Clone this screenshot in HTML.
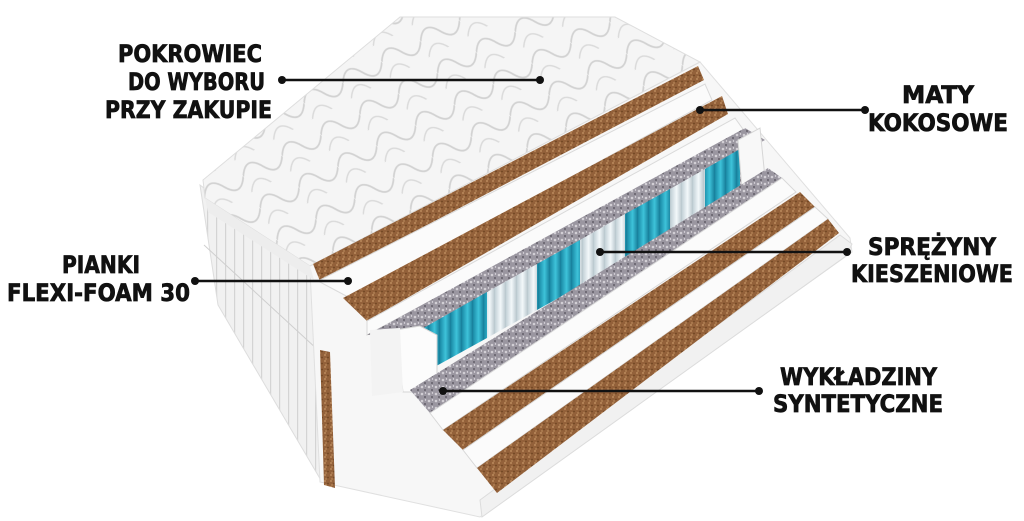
<!DOCTYPE html>
<html><head><meta charset="utf-8"><style>
html,body{margin:0;padding:0;background:#fff;width:1024px;height:521px;overflow:hidden}
text{font-family:"DejaVu Sans Condensed","DejaVu Sans","Liberation Sans",sans-serif;font-weight:bold;font-size:24px;fill:#111;stroke:#111;stroke-width:0.7}
</style></head><body>
<svg width="1024" height="521" viewBox="0 0 1024 521" xmlns="http://www.w3.org/2000/svg">
<defs>
<pattern id="coco" width="6" height="6" patternUnits="userSpaceOnUse">
<rect width="6" height="6" fill="#93613a"/><circle cx="1" cy="1" r="1" fill="#bb8a5c"/><circle cx="4" cy="3.5" r="0.9" fill="#6e4422"/><circle cx="2" cy="5" r="0.7" fill="#c79867"/>
</pattern>
<pattern id="felt" width="7" height="7" patternUnits="userSpaceOnUse">
<rect width="7" height="7" fill="#9a96a0"/><circle cx="2" cy="2" r="1.3" fill="#d2cfd5"/><circle cx="5" cy="5" r="1" fill="#625e68"/><circle cx="5.5" cy="1" r="0.7" fill="#e6e3e8"/>
</pattern>
<linearGradient id="tg" x1="0" x2="1"><stop offset="0" stop-color="#1a8aa6"/><stop offset="0.5" stop-color="#3ec3da"/><stop offset="1" stop-color="#157c98"/></linearGradient>
<linearGradient id="wg" x1="0" x2="1"><stop offset="0" stop-color="#c4d2d8"/><stop offset="0.5" stop-color="#f3f8fa"/><stop offset="1" stop-color="#b7c5cc"/></linearGradient>
<pattern id="teal" width="11" height="10" patternUnits="userSpaceOnUse"><rect width="11" height="10" fill="url(#tg)"/></pattern>
<pattern id="whit" width="11" height="10" patternUnits="userSpaceOnUse"><rect width="11" height="10" fill="url(#wg)"/></pattern>
<pattern id="stripe" width="9" height="9" patternUnits="userSpaceOnUse"><rect width="9" height="9" fill="#f1f1f1"/><rect width="1.2" height="9" fill="#d4d4d4"/></pattern>
<pattern id="quilt" width="44" height="36" patternUnits="userSpaceOnUse" patternTransform="rotate(-28)">
<rect width="44" height="36" fill="#f5f5f5"/><path d="M0 18 Q11 0 22 18 T44 18" fill="none" stroke="#d2d2d2" stroke-width="1.8"/><path d="M0 36 Q11 18 22 36 T44 36" fill="none" stroke="#dadada" stroke-width="1.4"/>
</pattern>
</defs>

<polygon points="200,185 310,268 322,482 218,305" fill="url(#stripe)" stroke="#ddd"/>
<line x1="204" y1="245" x2="318" y2="350" stroke="#cfcfcf"/>
<polygon points="305,268 700,62 850,238 852,252 480,517 320,482 310,270" fill="#f7f7f7" stroke="#e0e0e0"/>
<polygon points="320,350 330,352 335,488 324,485" fill="url(#coco)"/>
<polygon points="480,500 840,235 852,244 846,256 482,517" fill="#f1f1f1" stroke="#dcdcdc"/>
<polygon points="203,180 400,17 615,17 700,62 310,266 205,198" fill="url(#quilt)" stroke="#dedede"/>
<polygon points="205,198 310,266 314,280 208,212" fill="#ededed"/>

<polygon points="313,264 698,66 704,80 320,281" fill="url(#coco)"/>
<polygon points="318,281 705,84 712,100 350,298" fill="#fbfbfb" stroke="#dadada"/>
<polygon points="343,298 722,96 728,114 367,321" fill="url(#coco)"/>
<polygon points="367,321 735,118 745,132 367,335" fill="#fbfbfb" stroke="#dadada"/>
<polygon points="367,335 745,128 765,140 420,328" fill="url(#felt)"/>
<polygon points="417,327 740,145 745,190 420,375" fill="url(#felt)"/>
<polygon points="420,330 487,292 487,338 420,375" fill="url(#teal)"/>
<polygon points="487,292 537,264 537,310 487,338" fill="url(#whit)"/>
<polygon points="537,264 580,240 580,286 537,310" fill="url(#teal)"/>
<polygon points="580,240 625,214 625,260 580,286" fill="url(#whit)"/>
<polygon points="625,214 670,189 670,234 625,260" fill="url(#teal)"/>
<polygon points="670,189 705,169 705,213 670,234" fill="url(#whit)"/>
<polygon points="705,169 740,149 740,190 705,213" fill="url(#teal)"/>
<polygon points="738,140 760,128 765,178 742,190" fill="#f8f8f8" stroke="#d6d6d6"/>
<polygon points="395,330 420,326 437,335 437,392 403,392" fill="#fcfcfc" stroke="#d4d4d4"/>
<polygon points="370,330 400,328 403,392 372,396" fill="#f3f3f3"/>
<polygon points="410,390 768,168 782,178 430,413" fill="url(#felt)"/>
<polygon points="430,413 782,178 796,192 443,430" fill="#fbfbfb" stroke="#d8d8d8"/>
<polygon points="443,430 800,192 815,207 463,450" fill="url(#coco)"/>
<polygon points="463,450 815,207 828,219 477,468" fill="#fbfbfb" stroke="#d8d8d8"/>
<polygon points="477,468 828,219 839,233 497,493" fill="url(#coco)"/>

<g stroke="#111" stroke-width="2.5">
<line x1="282" y1="80" x2="540" y2="80"/>
<line x1="700" y1="110" x2="865" y2="110"/>
<line x1="600" y1="252" x2="847" y2="252"/>
<line x1="195" y1="281" x2="348" y2="281"/>
<line x1="443" y1="391" x2="759" y2="391"/>
</g>
<g fill="#111">
<circle cx="282" cy="80" r="4"/><circle cx="540" cy="80" r="4"/>
<circle cx="700" cy="110" r="4"/><circle cx="865" cy="110" r="4"/>
<circle cx="600" cy="252" r="4"/><circle cx="847" cy="252" r="4"/>
<circle cx="195" cy="281" r="4"/><circle cx="348" cy="281" r="4"/>
<circle cx="443" cy="391" r="4"/><circle cx="759" cy="391" r="4"/>
</g>

<text x="118" y="62" textLength="144" lengthAdjust="spacingAndGlyphs">POKROWIEC</text>
<text x="128" y="90" textLength="137" lengthAdjust="spacingAndGlyphs">DO WYBORU</text>
<text x="105" y="118" textLength="167" lengthAdjust="spacingAndGlyphs">PRZY ZAKUPIE</text>
<text x="62" y="273" textLength="78" lengthAdjust="spacingAndGlyphs">PIANKI</text>
<text x="7" y="301" textLength="183" lengthAdjust="spacingAndGlyphs">FLEXI-FOAM 30</text>
<text x="902" y="103" textLength="72" lengthAdjust="spacingAndGlyphs">MATY</text>
<text x="868" y="131" textLength="140" lengthAdjust="spacingAndGlyphs">KOKOSOWE</text>
<text x="868" y="255" textLength="128" lengthAdjust="spacingAndGlyphs">SPRĘŻYNY</text>
<text x="851" y="282" textLength="162" lengthAdjust="spacingAndGlyphs">KIESZENIOWE</text>
<text x="780" y="385" textLength="157" lengthAdjust="spacingAndGlyphs">WYKŁADZINY</text>
<text x="773" y="412" textLength="170" lengthAdjust="spacingAndGlyphs">SYNTETYCZNE</text>
</svg>
</body></html>
